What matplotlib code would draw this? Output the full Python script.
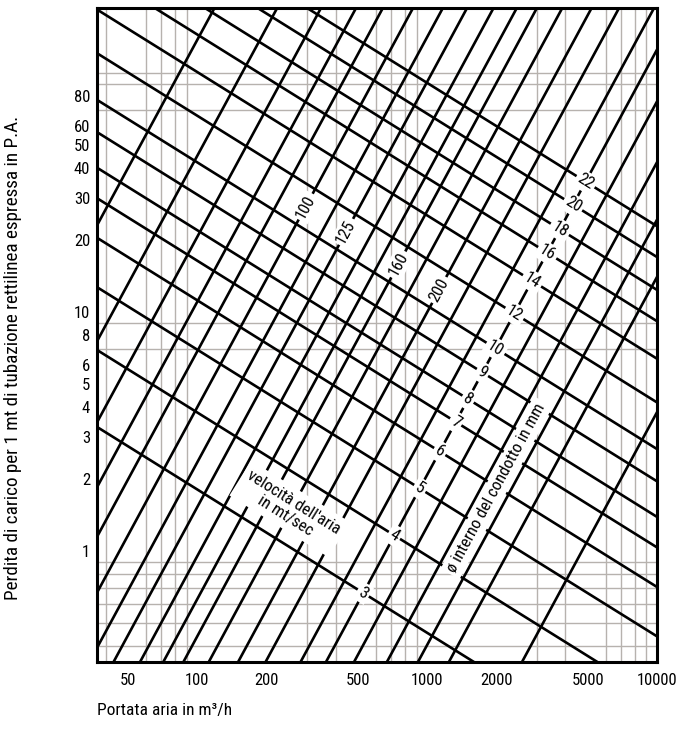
import numpy as np
import matplotlib
matplotlib.use("Agg")
import matplotlib.pyplot as plt
from matplotlib.ticker import FixedLocator, LogLocator, NullFormatter

plt.rcParams['font.family'] = ['Roboto Condensed', 'Liberation Sans Narrow', 'Liberation Sans', 'DejaVu Sans']

# rette del diametro: portata (m3/h) letta dove la retta incrocia 1 Pa/m
diam_q_at_1pa = [6.3, 11.8, 18.3, 26, 34, 46, 62, 79, 103, 130, 159, 205,
                 275, 362, 514, 663, 878, 1220, 1665, 2270, 4720]
diam_slope = 1.78
diam_labels = ['100', '125', '160', '200']
diam_label_q = [46, 79, 159, 275]

# rette della velocita': perdita (Pa/m) letta a 100 m3/h
vel_labels = ['3', '4', '5', '6', '7', '8', '9', '10', '12', '14', '16', '18', '20', '22']
vel_dp_at_100 = [1.81, 3.80, 6.96, 11.2, 16.4, 22.0, 31.0, 42.3, 66.3, 101, 145, 196, 269, 362]
vel_slope = -0.6

x_ticks = [50, 100, 200, 500, 1000, 2000, 5000, 10000]
y_ticks = [1, 2, 3, 4, 5, 6, 8, 10, 20, 30, 40, 50, 60, 80]

W, H = 677, 731
fig = plt.figure(figsize=(W / 100, H / 100), dpi=100)
ax = fig.add_axes([97 / W, 1 - 662 / H, 560 / W, 654 / H])
ax.set_xscale('log')
ax.set_yscale('log')
ax.set_xlim(36.7, 10000)
ax.set_ylim(0.343, 187)

# griglia grigia logaritmica
for axis in (ax.xaxis, ax.yaxis):
    axis.set_minor_locator(LogLocator(base=10, subs=np.arange(1, 10), numticks=20))
    axis.set_minor_formatter(NullFormatter())
ax.grid(which='minor', color='#b7b2ae', lw=1.0, zorder=1)
ax.grid(which='major', visible=False)
ax.xaxis.set_major_locator(FixedLocator(x_ticks))
ax.yaxis.set_major_locator(FixedLocator(y_ticks))
ax.set_xticklabels([str(v) for v in x_ticks])
ax.set_yticklabels([str(v) for v in y_ticks])
ax.tick_params(which='both', length=0, labelsize=12)
ax.tick_params(axis='x', pad=8)
ax.tick_params(axis='y', pad=5)
for s in ax.spines.values():
    s.set_linewidth(2.2)
    s.set_zorder(6)

qq = np.array([5.0, 50000.0])
for q1 in diam_q_at_1pa:
    ax.plot(qq, (qq / q1) ** diam_slope, color='black', lw=1.9, zorder=3, solid_capstyle='butt')
for d100 in vel_dp_at_100:
    ax.plot(qq, d100 * (qq / 100) ** vel_slope, color='black', lw=1.9, zorder=3, solid_capstyle='butt')


def screen_angle(q, dp, slope):
    p1 = ax.transData.transform((q, dp))
    p2 = ax.transData.transform((q * 1.5, dp * 1.5 ** slope))
    return np.degrees(np.arctan2(p2[1] - p1[1], p2[0] - p1[0]))


def cross(q1, d100):
    # incrocio retta diametro / retta velocita'
    L = (np.log10(d100) + 2 * (-vel_slope) + diam_slope * np.log10(q1)) / (diam_slope - vel_slope)
    q = 10 ** L
    return q, (q / q1) ** diam_slope


box = dict(boxstyle='square,pad=0.15', fc='white', ec='none')

# etichette velocita' sulla retta del diametro 663
for lab, d100 in zip(vel_labels, vel_dp_at_100):
    q, dp = cross(663, d100)
    ax.text(q, dp, lab, rotation=screen_angle(q, dp, vel_slope), ha='center', va='center',
            fontsize=12, bbox=box, zorder=5, rotation_mode='anchor')

# etichette diametri fra le rette 10 e 12 m/s
band = np.sqrt(vel_dp_at_100[7] * vel_dp_at_100[8])
for lab, q1 in zip(diam_labels, diam_label_q):
    q, dp = cross(q1, band)
    ax.text(q, dp, lab, rotation=screen_angle(q, dp, diam_slope), ha='center', va='center',
            fontsize=12, bbox=box, zorder=5, rotation_mode='anchor')

# scritte descrittive
ax.text(253, 1.5, "velocità dell'aria\nin mt/sec", rotation=screen_angle(253, 1.5, vel_slope),
        ha='center', va='center', fontsize=12, linespacing=1.1,
        bbox=dict(boxstyle='square,pad=0.3', fc='white', ec='none'), zorder=5,
        rotation_mode='anchor')
qd = 1425 * 1.84 ** (1 / diam_slope)
ax.text(qd, 1.84, "ø interno del condotto in mm", rotation=screen_angle(qd, 1.84, diam_slope),
        ha='center', va='center', fontsize=12,
        bbox=dict(boxstyle='square,pad=0.2', fc='white', ec='none'), zorder=5,
        rotation_mode='anchor')

fig.text(97 / W, 1 - 710 / H, "Portata aria in m³/h", ha='left', va='center', fontsize=12.5)
fig.text(13 / W, 1 - 358 / H, "Perdita di carico per 1 mt di tubazione rettilinea espressa in P.A.",
         rotation=90, ha='center', va='center', fontsize=13.8)

fig.savefig('out.png', dpi=100)
